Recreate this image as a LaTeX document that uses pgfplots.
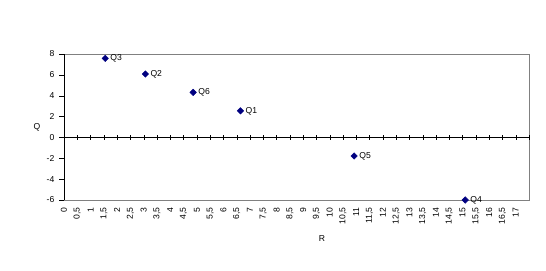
\documentclass[border=0pt]{standalone}
\usepackage{fontspec}
\setmainfont{Liberation Sans}
\usepackage{pgfplots}
\pgfplotsset{compat=1.18}
\definecolor{navy}{RGB}{0,0,128}
\newcommand{\chartfont}{\fontsize{8.6bp}{10bp}\selectfont}
\begin{document}
\chartfont
\begin{tikzpicture}
\useasboundingbox (0,0) rectangle (546bp,271bp);
% gray frame and bottom tick labels
\begin{axis}[
  at={(64bp,71bp)}, anchor=south west, scale only axis,
  width=465bp, height=146bp,
  xmin=0, xmax=17.5, ymin=-6, ymax=8,
  axis line style={draw=gray},
  xtick={0,0.5,...,17},
  xticklabels={0,{0,5},1,{1,5},2,{2,5},3,{3,5},4,{4,5},5,{5,5},6,{6,5},7,{7,5},8,{8,5},9,{9,5},10,{10,5},11,{11,5},12,{12,5},13,{13,5},14,{14,5},15,{15,5},16,{16,5},17},
  xtick style={draw=none},
  major tick length=0pt,
  xticklabel style={rotate=90, anchor=east, inner sep=0pt, font=\chartfont},
  xticklabel shift=7.5bp,
  ytick=\empty,
  xlabel={R},
  xlabel style={at={(axis description cs:0.555,-0.267)}, anchor=center, font=\chartfont},
]
\end{axis}
% black axes with ticks and data
\begin{axis}[
  at={(64bp,71bp)}, anchor=south west, scale only axis,
  width=465bp, height=146bp,
  xmin=0, xmax=17.5, ymin=-6, ymax=8,
  axis x line=middle, axis y line=left,
  axis line style={-, black},
  major tick length=4.5bp,
  xtick={0,0.5,...,17.5}, xticklabels={},
  xtick style={black},
  xtick align=center,
  ytick={-6,-4,...,8},
  ytick align=outside,
  ytick style={black},
  yticklabel style={inner sep=0pt, font=\chartfont},
  yticklabel shift=5bp,
  /pgf/number format/assume math mode=true,
  ylabel={Q},
  ylabel style={at={(axis description cs:-0.058,0.5)}, anchor=center, rotate=-90, font=\chartfont},
  clip=false,
]
\addplot[only marks, mark=square*, mark size=2.3bp,
  mark options={rotate=45, fill=navy, draw=navy},
  nodes near coords, point meta=explicit symbolic,
  nodes near coords style={anchor=west, xshift=4bp, inner sep=1bp, text=black, font=\chartfont}]
  table[meta=label] {
x y label
1.55 7.58 Q3
3.06 6.08 Q2
4.86 4.32 Q6
6.64 2.55 Q1
10.92 -1.78 Q5
15.1 -6.0 Q4
};
\end{axis}
\end{tikzpicture}
\end{document}
